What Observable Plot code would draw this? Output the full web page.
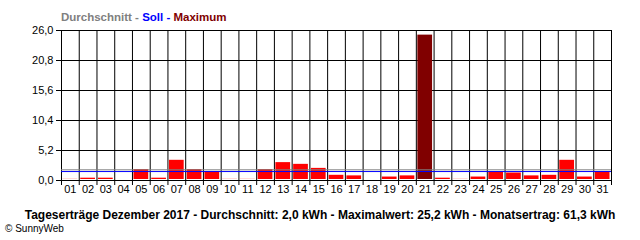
<!DOCTYPE html>
<html>
<head>
<meta charset="utf-8">
<script src="https://cdn.jsdelivr.net/npm/d3@7"></script>
<script src="https://cdn.jsdelivr.net/npm/@observablehq/plot@0.6"></script>
<style>
  body { margin: 0; background: #fff; }
  #wrap { width: 640px; height: 240px; position: relative; overflow: hidden; background: #fff; font-family: "Liberation Sans", Arial, sans-serif; }
  #title { height: 24px; box-sizing: border-box; padding: 10px 0 0 61px; font-size: 11.5px; line-height: 14px; font-weight: bold; white-space: nowrap; }
  #chart svg { display: block; }
  #caption { box-sizing: border-box; padding-top: 9px; font-size: 12px; line-height: 13px; }
  #caption .main { text-align: center; font-weight: bold; white-space: nowrap; }
  #caption .copy { padding-left: 5px; font-size: 10px; }
</style>
</head>
<body>
<div id="wrap">
  <div id="title"></div>
  <div id="chart"></div>
  <div id="caption"></div>
</div>
<script>
// Day labels (x axis)
const dayLabels = ["01","02","03","04","05","06","07","08","09","10","11","12","13","14","15","16","17","18","19","20","21","22","23","24","25","26","27","28","29","30","31"];
// Daily yield in kWh
const dailyYield = [0.2,0.4,0.4,0,1.9,0.4,3.5,1.9,1.5,0.2,0.2,1.9,3.1,2.8,2.1,0.9,0.8,0,0.6,0.8,25.2,0.4,0.2,0.6,1.5,1.3,0.8,0.9,3.5,0.6,1.5];
// Reference lines
const averageValue = 1.85;   // Durchschnitt (grey)
const targetValue = 1.55;    // Soll (blue)
// Y tick values
const yTicks = [0, 5.2, 10.4, 15.6, 20.8, 26.0];
// Title / caption texts
const titleParts = [
  {text: "Durchschnitt - ", color: "#808080"},
  {text: "Soll - ", color: "#0000ff"},
  {text: "Maximum", color: "#800000"}
];
const captionText = "Tageserträge Dezember 2017 - Durchschnitt: 2,0 kWh - Maximalwert: 25,2 kWh - Monatsertrag: 61,3 kWh";
const copyText = "© SunnyWeb";

const maxVal = d3.max(dailyYield);
const data = dailyYield.map((v, i) => ({day: i + 1, label: dayLabels[i], value: v, isMax: v === maxVal}));
const dayNums = data.map(d => d.day);
const boundaries = [0.5, ...dayNums.map(d => d + 0.5)];
const fmt = v => v.toFixed(1).replace(".", ",");

document.getElementById("title").innerHTML = titleParts.map(p => `<span style="color:${p.color}">${p.text.replace(/ /g, "&nbsp;")}</span>`).join("");
document.getElementById("caption").innerHTML = `<div class="main">${captionText}</div><div class="copy">${copyText}</div>`;

const chart = Plot.plot({
  width: 640,
  height: 176,
  marginLeft: 61,
  marginRight: 29,
  marginTop: 6,
  marginBottom: 20,
  x: {type: "linear", domain: [0.5, 31.5]},
  y: {domain: [0, 26]},
  style: {fontFamily: "'Liberation Sans', Arial, sans-serif", fontSize: "11px", color: "black", background: "white"},
  marks: [
    Plot.gridX(boundaries, {stroke: "black", strokeOpacity: 1}),
    Plot.gridY(yTicks, {stroke: "black", strokeOpacity: 1}),
    Plot.rectY(data, {x1: d => d.day - 0.5, x2: d => d.day + 0.5, y: "value", fill: d => d.isMax ? "#800000" : "#ff0000", insetLeft: 1.5, insetRight: 1.5, insetBottom: 1}),
    Plot.ruleY([averageValue], {stroke: "#808080"}),
    Plot.ruleY([targetValue], {stroke: "#0000ff"}),
    Plot.axisY(yTicks, {tickSize: 5, tickPadding: 3, tickFormat: fmt, label: null}),
    Plot.axisX(boundaries, {tickSize: 5, tickFormat: () => "", label: null}),
    Plot.axisX(dayNums, {tickSize: 0, tickPadding: 5, tickFormat: d => dayLabels[d - 1], label: null})
  ]
});
document.getElementById("chart").appendChild(chart);
</script>
</body>
</html>
